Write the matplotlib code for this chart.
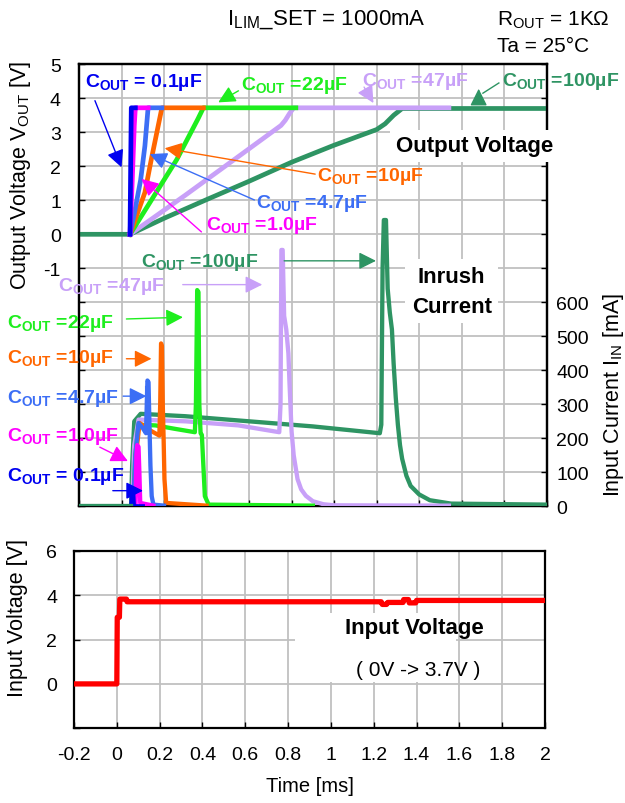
import numpy as np
import matplotlib
matplotlib.use('Agg')
import matplotlib.pyplot as plt
from matplotlib.patches import Rectangle

plt.rcParams['font.family'] = ['Liberation Sans', 'DejaVu Sans']
plt.rcParams['mathtext.fontset'] = 'custom'
plt.rcParams['mathtext.rm'] = 'Liberation Sans'
plt.rcParams['mathtext.bf'] = 'Liberation Sans:bold'
plt.rcParams['mathtext.it'] = 'Liberation Sans:italic'

# ---------------- data (time in ms) ----------------
# Output voltage [V]
t_vout_100 = [-0.2, 0.04, 0.2, 0.4, 0.6, 0.8, 1.0, 1.2, 1.24, 1.28, 1.32, 2.0]
vout_100 = [0, 0, 0.47, 1.02, 1.56, 2.12, 2.62, 3.08, 3.25, 3.5, 3.7, 3.7]
t_vout_47 = [0.04, 0.3, 0.555, 0.75, 0.77, 0.79, 0.81, 1.54]
vout_47 = [0, 1.15, 2.31, 3.2, 3.35, 3.55, 3.72, 3.72]
t_vout_22 = [0.04, 0.15, 0.26, 0.36, 0.385, 0.82]
vout_22 = [0, 1.1, 2.2, 3.4, 3.72, 3.72]
t_vout_10 = [0.04, 0.11, 0.14, 0.19, 0.385]
vout_10 = [0, 1.23, 2.2, 3.72, 3.72]
t_vout_4u7 = [0.04, 0.06, 0.09, 0.11, 0.125, 0.19]
vout_4u7 = [0, 0.6, 1.6, 2.6, 3.72, 3.72]
t_vout_1u0 = [0.04, 0.05, 0.06, 0.065, 0.125]
vout_1u0 = [0, 1.5, 3.2, 3.72, 3.72]
t_vout_0u1 = [0.04, 0.043, 0.046, 0.065]
vout_0u1 = [0, 2.0, 3.72, 3.72]

# Input current [mA]
t_iin_100 = [-0.2, 0.045, 0.05, 0.06, 0.09, 0.3, 0.6, 0.9, 1.215, 1.222, 1.228, 1.234, 1.244,
             1.252, 1.262, 1.272, 1.28, 1.29, 1.30, 1.31, 1.32, 1.34, 1.36, 1.40, 1.45, 1.55, 2.0]
iin_100 = [0, 0, 120, 250, 272, 265, 250, 235, 215, 240, 700, 842, 842,
           640, 570, 520, 420, 320, 240, 180, 140, 90, 60, 35, 18, 8, 5]
t_iin_47 = [0.04, 0.05, 0.06, 0.08, 0.3, 0.55, 0.742, 0.748, 0.752, 0.758, 0.765, 0.775, 0.785,
            0.79, 0.80, 0.81, 0.828, 0.845, 0.867, 0.9, 0.95, 1.0, 1.54]
iin_47 = [0, 0, 180, 255, 250, 238, 218, 300, 754, 754, 560, 520, 450,
          366, 220, 150, 80, 50, 31, 15, 6, 3, 2]
t_iin_22 = [0.04, 0.055, 0.065, 0.08, 0.16, 0.25, 0.345, 0.35, 0.356, 0.362, 0.366, 0.372,
            0.378, 0.385, 0.392, 0.41, 0.9]
iin_22 = [0, 0, 150, 240, 238, 228, 218, 300, 636, 630, 300, 215, 210, 120, 30, 5, 2]
t_iin_10 = [0.04, 0.055, 0.068, 0.085, 0.13, 0.178, 0.182, 0.186, 0.19, 0.194, 0.198, 0.202,
            0.21, 0.4]
iin_10 = [0, 0, 150, 245, 225, 208, 300, 479, 470, 300, 200, 80, 10, 2]
t_iin_4u7 = [0.04, 0.055, 0.065, 0.08, 0.1, 0.115, 0.118, 0.122, 0.127, 0.131, 0.136, 0.142,
             0.15, 0.2]
iin_4u7 = [0, 0, 150, 245, 230, 215, 280, 370, 365, 250, 120, 30, 5, 2]
t_iin_1u0 = [0.04, 0.066, 0.07, 0.074, 0.08, 0.084, 0.088, 0.15]
iin_1u0 = [0, 0, 150, 180, 175, 100, 10, 2]
t_iin_0u1 = [0.04, 0.046, 0.05, 0.054, 0.058, 0.1]
iin_0u1 = [0, 0, 50, 50, 0, 0]

# Input voltage [V]
t_vin = [-0.2, 0.0, 0.002, 0.012, 0.014, 0.045, 0.048, 1.235, 1.24, 1.26, 1.265, 1.337, 1.34,
         1.362, 1.366, 1.396, 1.4, 2.0]
vin = [0, 0, 3.0, 3.0, 3.82, 3.82, 3.7, 3.7, 3.58, 3.58, 3.67, 3.67, 3.8,
       3.8, 3.65, 3.65, 3.76, 3.76]

x_ticks = [-0.2, 0, 0.2, 0.4, 0.6, 0.8, 1, 1.2, 1.4, 1.6, 1.8, 2]
x_ticklabels = ['-0.2', '0', '0.2', '0.4', '0.6', '0.8', '1', '1.2', '1.4', '1.6', '1.8', '2']

# ---------------- style ----------------
C_DGREEN = '#2E9463'
C_LAV = '#C8A0F8'
C_GREEN = '#1EEE1E'
C_ORANGE = '#FF6600'
C_LBLUE = '#3C6EF5'
C_MAG = '#FF00FF'
C_BLUE = '#0000F0'
C_RED = '#FF0000'
GRID = '#C0C0C0'

fig = plt.figure(figsize=(6.25, 8.04), dpi=100)

ax = fig.add_axes([0.1264, 0.369, 0.7483, 0.5498])
ax2 = ax.twinx()
ax.set_xlim(-0.2, 2.0)
ax.set_ylim(-8, 5)
ax2.set_ylim(0, 1300)
ax.set_xticks(x_ticks)
ax.set_xticklabels([])
ax.set_yticks(range(-8, 6))
ax.set_yticklabels([str(v) if v >= -1 else '' for v in range(-8, 6)])
ax2.set_yticks(range(0, 1301, 100))
ax2.set_yticklabels([str(v) if v <= 600 else '' for v in range(0, 1301, 100)])
ax.grid(True, color=GRID, lw=1.3)
ax.set_axisbelow(True)
ax.tick_params(axis='both', direction='in', length=4, width=1, labelsize=14, pad=13)
ax2.tick_params(axis='y', direction='in', length=4, width=1, labelsize=14, pad=7)
for a in (ax, ax2):
    for s in a.spines.values():
        s.set_linewidth(1.6)

lw_v = 3.4
ax.plot(t_vout_100, vout_100, color=C_DGREEN, lw=lw_v, zorder=3)
ax.plot(t_vout_47, vout_47, color=C_LAV, lw=lw_v, zorder=3)
ax.plot(t_vout_22, vout_22, color=C_GREEN, lw=lw_v, zorder=3)
ax.plot(t_vout_10, vout_10, color=C_ORANGE, lw=lw_v, zorder=3)
ax.plot(t_vout_4u7, vout_4u7, color=C_LBLUE, lw=lw_v, zorder=3)
ax.plot(t_vout_1u0, vout_1u0, color=C_MAG, lw=lw_v, zorder=3)
ax.plot(t_vout_0u1, vout_0u1, color=C_BLUE, lw=lw_v, zorder=3)

lw_i = 3.1
ax2.plot(t_iin_100, iin_100, color=C_DGREEN, lw=lw_i, zorder=3)
ax2.plot(t_iin_47, iin_47, color=C_LAV, lw=lw_i, zorder=3)
ax2.plot(t_iin_22, iin_22, color=C_GREEN, lw=lw_i, zorder=3)
ax2.plot(t_iin_10, iin_10, color=C_ORANGE, lw=lw_i, zorder=3)
ax2.plot(t_iin_4u7, iin_4u7, color=C_LBLUE, lw=lw_i, zorder=3)
ax2.plot(t_iin_1u0, iin_1u0, color=C_MAG, lw=lw_i, zorder=3)
ax2.plot(t_iin_0u1, iin_0u1, color=C_BLUE, lw=lw_i, zorder=3)
ax2.plot([-0.2, 0.045], [0, 0], color=C_DGREEN, lw=lw_i, zorder=4)

T = ax.transData
FS = 14
FSB = 16


def label(txt, x, y, color, ha='left'):
    ax2.text(x, y, txt, transform=T, color=color, fontsize=FS, fontweight='bold',
             ha=ha, va='center', zorder=8, clip_on=False)


def arrow(x0, y0, x1, y1, color, ms=26, lw=1.0):
    ax2.annotate('', xy=(x1, y1), xytext=(x0, y0), xycoords=T, textcoords=T,
                 arrowprops=dict(arrowstyle='-|>', color=color, lw=lw, mutation_scale=ms,
                                 shrinkA=0, shrinkB=0), zorder=8, annotation_clip=False)


def cout(val, sp=''):
    return r'C$_{\mathbf{OUT}}$' + sp + '=' + val


# voltage annotations
label(cout('0.1µF', ' ').replace('=', '= '), -0.172, 4.48, C_BLUE)
arrow(-0.125, 3.93, 0.0, 1.97, C_BLUE)
label(cout('22µF', ' '), 0.56, 4.42, C_GREEN)
arrow(0.55, 4.22, 0.455, 3.88, C_GREEN)
label(cout('47µF', ' '), 1.131, 4.52, C_LAV)
arrow(1.141, 4.33, 1.185, 3.86, C_LAV)
label(cout('100µF', ' '), 1.79, 4.51, C_DGREEN)
ax2.plot([1.70, 1.775], [4.15, 4.45], transform=T, color=C_DGREEN, lw=1.0, zorder=8)
arrow(1.68, 3.9, 1.68, 4.28, C_DGREEN)
label(cout('10µF', ' '), 0.921, 1.72, C_ORANGE)
arrow(0.911, 1.77, 0.203, 2.53, C_ORANGE)
label(cout('4.7µF', ' '), 0.633, 0.94, C_LBLUE)
arrow(0.625, 1.01, 0.133, 2.36, C_LBLUE)
label(cout('1.0µF', ' '), 0.398, 0.30, C_MAG)
arrow(0.376, 0.07, 0.094, 1.63, C_MAG)
ax2.text(1.29, 2.60, 'Output Voltage', transform=T, fontsize=FSB, fontweight='bold',
         ha='left', va='center', zorder=9, clip_on=False,
         bbox=dict(boxstyle='square,pad=0.25', fc='white', ec='none'))

# current annotations
label(cout('47µF', ' '), -0.299, -1.51, C_LAV)
arrow(0.288, -1.48, 0.662, -1.48, C_LAV)
label(cout('100µF', ' '), 0.09, -0.81, C_DGREEN)
arrow(0.765, -0.78, 1.197, -0.78, C_DGREEN)
label(cout('22µF', ' '), -0.539, -2.59, C_GREEN)
arrow(0.023, -2.49, 0.289, -2.44, C_GREEN)
label(cout('10µF', ' '), -0.539, -3.62, C_ORANGE)
arrow(0.023, -3.66, 0.141, -3.66, C_ORANGE)
label(cout('4.7µF', ' '), -0.539, -4.79, C_LBLUE)
arrow(0.0075, -4.76, 0.117, -4.76, C_LBLUE)
ax2.plot([0.117, 0.117], [-4.5, -5.0], transform=T, color=C_LBLUE, lw=1.5, zorder=8)
label(cout('1.0µF', ' '), -0.539, -5.92, C_MAG)
arrow(-0.102, -6.26, 0.030, -6.67, C_MAG)
label(cout('0.1µF', ' ').replace('=', '= '), -0.539, -7.10, C_BLUE)
arrow(-0.041, -7.54, 0.101, -7.54, C_BLUE)
ax2.text(1.553, -1.68, 'Inrush\nCurrent', transform=T, fontsize=FSB, fontweight='bold',
         ha='center', va='center', multialignment='center', linespacing=1.55, zorder=9,
         bbox=dict(boxstyle='square,pad=0.3', fc='white', ec='none'))

# titles and axis labels
fig.text(326 / 625, 1 - 20 / 804, r'I$_{\mathrm{LIM}}$_SET = 1000mA', fontsize=16,
         ha='center', va='center')
fig.text(497 / 625, 1 - 20 / 804, r'R$_{\mathrm{OUT}}$ = 1KΩ', fontsize=15,
         ha='left', va='center')
fig.text(497 / 625, 1 - 47 / 804, 'Ta = 25°C', fontsize=15, ha='left', va='center')
fig.text(21 / 625, 1 - 175 / 804, r'Output Voltage V$_{\mathrm{OUT}}$ [V]', fontsize=15.5,
         rotation=90, ha='center', va='center')
fig.text(614 / 625, 1 - 395 / 804, r'Input Current I$_{\mathrm{IN}}$ [mA]', fontsize=15.5,
         rotation=90, ha='center', va='center')

# ---------------- input voltage panel ----------------
ax3 = fig.add_axes([0.1184, 0.0929, 0.7536, 0.2209])
ax3.set_xlim(-0.2, 2.0)
ax3.set_ylim(-2, 6)
ax3.set_xticks(x_ticks)
ax3.set_xticklabels(x_ticklabels)
ax3.set_yticks([-2, 0, 2, 4, 6])
ax3.set_yticklabels(['', '0', '2', '4', '6'])
ax3.grid(True, color=GRID, lw=1.3)
ax3.set_axisbelow(True)
ax3.tick_params(axis='both', direction='in', length=4, width=1, labelsize=14)
ax3.tick_params(axis='y', pad=12)
ax3.tick_params(axis='x', pad=13)
for s in ax3.spines.values():
    s.set_linewidth(1.6)
ax3.add_patch(Rectangle((0.83, 0.07), 0.755, 3.13, fc='white', ec='none', zorder=1.5))
ax3.plot(t_vin, vin, color=C_RED, lw=3.8, zorder=3)
ax3.text(1.39, 2.55, 'Input Voltage', fontsize=FSB, fontweight='bold', ha='center',
         va='center', zorder=4)
ax3.text(1.41, 0.67, '( 0V -> 3.7V )', fontsize=15, ha='center', va='center', zorder=4)
ax3.set_xlabel('Time [ms]', fontsize=14.5, labelpad=9)
fig.text(18 / 625, 1 - 618 / 804, 'Input Voltage [V]', fontsize=15.5, rotation=90,
         ha='center', va='center')

fig.savefig('out.png', dpi=100)
